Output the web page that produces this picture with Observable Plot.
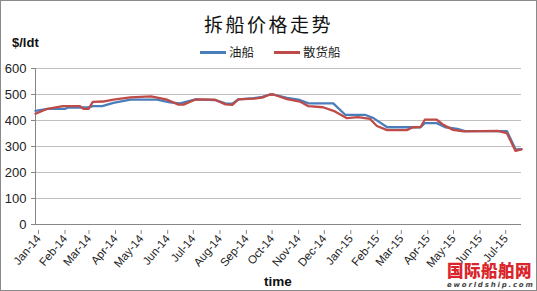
<!DOCTYPE html>
<html>
<head>
<meta charset="utf-8">
<script src="https://cdn.jsdelivr.net/npm/d3@7"></script>
<script src="https://cdn.jsdelivr.net/npm/@observablehq/plot@0.6"></script>
<style>
  body { margin: 0; background: #fff; }
  #wrap { position: relative; width: 537px; height: 291px; overflow: hidden; background: #fff; }
  #wrap svg { position: absolute; left: 0; top: 0; }
  .abs { position: absolute; white-space: nowrap; }
  #border { position: absolute; left: 0; top: 0; width: 537px; height: 291px; box-sizing: border-box; border: 1px solid #8a8a8a; pointer-events: none; }
</style>
</head>
<body>
<div id="wrap"></div>
<script>
// ---- data ----
const title = "拆船价格走势";
const yUnit = "$/ldt";
const xTitle = "time";
const seriesNames = ["油船", "散货船"];
const seriesColors = ["#4a7ebb", "#be4b48"];

const tankerDates = ["2014-01-01","2014-01-15","2014-02-05","2014-02-08","2014-02-22","2014-03-04","2014-03-09","2014-03-20","2014-04-02","2014-04-22","2014-05-23","2014-06-07","2014-06-19","2014-07-07","2014-07-30","2014-08-11","2014-08-19","2014-08-26","2014-09-13","2014-09-23","2014-10-02","2014-10-06","2014-10-22","2014-11-06","2014-11-16","2014-12-15","2014-12-29","2015-01-21","2015-01-31","2015-02-16","2015-03-27","2015-04-01","2015-04-15","2015-04-25","2015-05-09","2015-05-18","2015-07-06","2015-07-16","2015-07-23"];
const tankerPrices = [437,445,445,450,450,450,455,455,468,480,480,470,466,481,478,466,465,481,486,491,500,500,487,479,466,466,422,422,409,374,374,390,390,374,368,359,359,289,290];

const bulkDates = ["2014-01-01","2014-01-15","2014-02-02","2014-02-22","2014-02-26","2014-03-04","2014-03-09","2014-03-21","2014-04-02","2014-04-22","2014-05-16","2014-06-04","2014-06-17","2014-06-23","2014-07-07","2014-07-30","2014-08-11","2014-08-19","2014-08-26","2014-09-13","2014-09-23","2014-10-02","2014-10-06","2014-10-22","2014-11-06","2014-11-16","2014-12-03","2014-12-17","2014-12-31","2015-01-13","2015-01-27","2015-02-04","2015-02-16","2015-03-11","2015-03-18","2015-03-27","2015-04-01","2015-04-15","2015-04-22","2015-05-04","2015-05-16","2015-06-25","2015-07-06","2015-07-16","2015-07-23"];
const bulkPrices = [426,445,455,455,445,445,472,473,480,489,493,480,461,461,481,480,462,460,481,484,488,500,500,482,473,455,451,435,409,413,406,379,363,363,374,375,403,403,385,364,358,360,351,283,289];

const yTicks = [0,100,200,300,400,500,600];
const xTickDates = ["2014-01-01","2014-02-01","2014-03-01","2014-04-01","2014-05-01","2014-06-01","2014-07-01","2014-08-01","2014-09-01","2014-10-01","2014-11-01","2014-12-01","2015-01-01","2015-02-01","2015-03-01","2015-04-01","2015-05-01","2015-06-01","2015-07-01"];
const xTickLabels = ["Jan-14","Feb-14","Mar-14","Apr-14","May-14","Jun-14","Jul-14","Aug-14","Sep-14","Oct-14","Nov-14","Dec-14","Jan-15","Feb-15","Mar-15","Apr-15","May-15","Jun-15","Jul-15"];
const xDomain = ["2014-01-01","2015-07-23"];

// ---- build ----
const tanker = tankerDates.map((d,i) => ({date: new Date(d), price: tankerPrices[i], s: seriesNames[0]}));
const bulk = bulkDates.map((d,i) => ({date: new Date(d), price: bulkPrices[i], s: seriesNames[1]}));
const ticks = xTickDates.map(d => new Date(d));
const labelOf = new Map(ticks.map((t,i) => [+t, xTickLabels[i]]));
const axisGray = "#868686";

const chart = Plot.plot({
  width: 537,
  height: 291,
  marginTop: 68,
  marginBottom: 67,
  marginLeft: 35,
  marginRight: 16,
  style: {fontFamily: "'Liberation Sans', Arial, sans-serif", fontSize: "12px", color: "#222", background: "transparent"},
  x: {type: "utc", domain: xDomain.map(d => new Date(d))},
  y: {domain: [0, 600]},
  marks: [
    Plot.gridY(yTicks, {stroke: "#c0c0c0", strokeOpacity: 1}),
    Plot.ruleX([new Date(xDomain[0])], {stroke: axisGray}),
    Plot.ruleY([0], {stroke: axisGray}),
    Plot.axisY(yTicks, {tickSize: 4, tickPadding: 5, stroke: axisGray, label: null, tickFormat: d => String(d), fontSize: 13}),
    Plot.axisX(ticks, {tickSize: 4, tickPadding: 2, dx: 3, dy: 6, stroke: axisGray, label: null, tickRotate: -50, tickFormat: d => labelOf.get(+d), fontSize: 11.5}),
    Plot.line(tanker, {x: "date", y: "price", stroke: seriesColors[0], strokeWidth: 2.3}),
    Plot.line(bulk, {x: "date", y: "price", stroke: seriesColors[1], strokeWidth: 2.3})
  ]
});

const wrap = document.getElementById("wrap");
wrap.appendChild(chart);

function addText(txt, css) {
  const el = document.createElement("div");
  el.className = "abs";
  el.textContent = txt;
  Object.assign(el.style, css);
  wrap.appendChild(el);
  return el;
}

addText(title, {left: "0px", width: "537px", textAlign: "center", top: "12px", fontFamily: "'Noto Sans CJK SC', sans-serif", fontSize: "19px", letterSpacing: "2.5px", color: "#111", lineHeight: "24px"});
addText(yUnit, {left: "12px", top: "35px", fontFamily: "'Liberation Sans', Arial, sans-serif", fontWeight: "bold", fontSize: "13px", color: "#111", lineHeight: "16px"});
addText(xTitle, {left: "264px", top: "274px", fontFamily: "'Liberation Sans', Arial, sans-serif", fontWeight: "bold", fontSize: "13.5px", color: "#111", lineHeight: "16px"});

// legend
const legendItems = [
  {x: 200, textX: 229, name: seriesNames[0], color: seriesColors[0]},
  {x: 274, textX: 303, name: seriesNames[1], color: seriesColors[1]}
];
legendItems.forEach(it => {
  const ln = document.createElement("div");
  Object.assign(ln.style, {position: "absolute", left: it.x + "px", top: "51px", width: "26px", height: "2.5px", background: it.color});
  wrap.appendChild(ln);
  addText(it.name, {left: it.textX + "px", top: "44px", fontFamily: "'Noto Sans CJK SC', sans-serif", fontSize: "12.5px", color: "#222", lineHeight: "16px"});
});

// watermark
addText("国际船舶网", {left: "447px", top: "261px", fontFamily: "'Noto Sans CJK SC', sans-serif", fontWeight: "900", fontSize: "16.5px", letterSpacing: "0.5px", color: "#d9262c", lineHeight: "18px"});
addText("eworldship.com", {left: "447px", top: "281px", fontFamily: "'DejaVu Sans', sans-serif", fontWeight: "bold", fontStyle: "italic", fontSize: "7px", letterSpacing: "1.8px", color: "#444", lineHeight: "9px"});

const border = document.createElement("div");
border.id = "border";
wrap.appendChild(border);
</script>
</body>
</html>
